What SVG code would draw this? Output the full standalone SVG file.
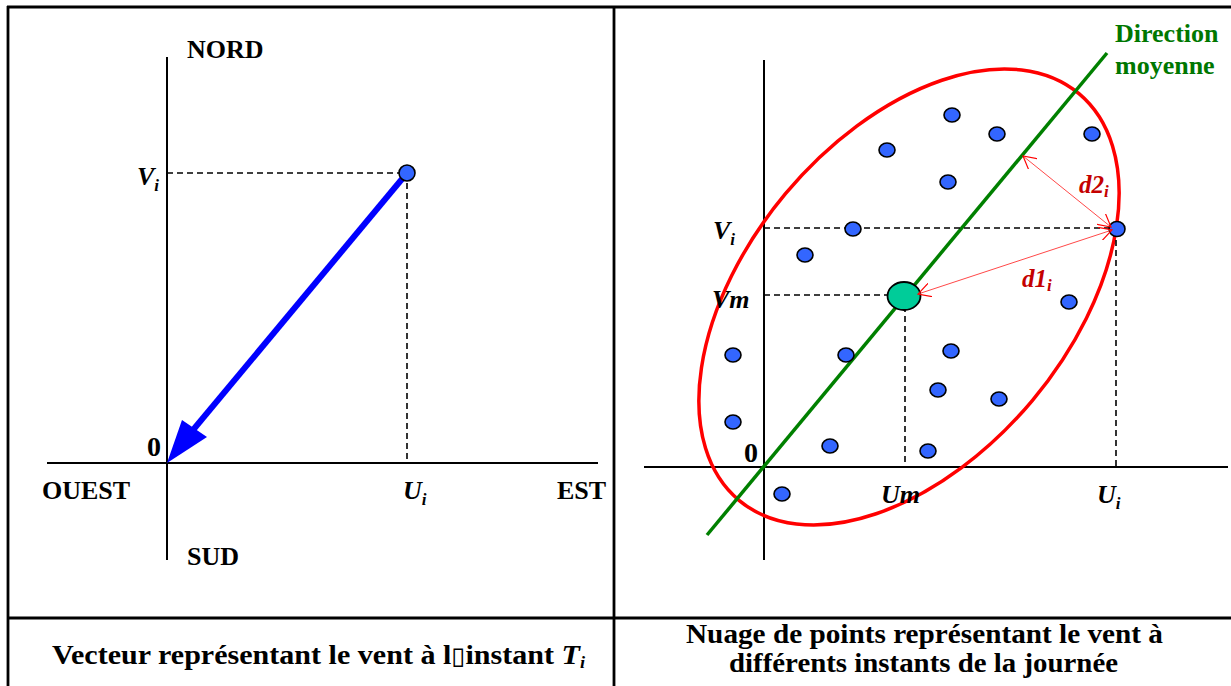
<svg xmlns="http://www.w3.org/2000/svg" width="1231" height="686" viewBox="0 0 1231 686">
<style>
.t{font-family:"Liberation Serif","Times New Roman",serif;font-weight:bold;fill:#000}
.lab{font-size:26px}
.it{font-style:italic}
.sub{font-size:17px}
.cap{font-size:28px}
.axis{stroke:#000;stroke-width:2;fill:none}
.dash{stroke:#000;stroke-width:1.6;stroke-dasharray:6 4;fill:none}
.frame{stroke:#000;stroke-width:2.8;fill:none}
.pt{fill:#3366ff;stroke:#000;stroke-width:1.6}
.dline{stroke:#ff3333;stroke-width:0.9;fill:none}
.dlab{font-size:25px}
</style>
<defs>
<marker id="openArr" viewBox="0 0 12 12" refX="11" refY="6" markerWidth="14" markerHeight="14" markerUnits="userSpaceOnUse" orient="auto-start-reverse">
<path d="M0,0 L11,6 L0,12" fill="none" stroke="#ff0000" stroke-width="1"/>
</marker>
</defs>

<g id="table">
<line class="frame" x1="7" y1="7" x2="1231" y2="7"/>
<line class="frame" x1="8" y1="6" x2="8" y2="686"/>
<line class="frame" x1="614" y1="6" x2="614" y2="686"/>
<line class="frame" x1="7" y1="618" x2="1231" y2="618"/>
</g>

<!-- Left panel -->
<g id="left-axes">
<line class="axis" x1="167" y1="57" x2="167" y2="560"/>
<line class="axis" x1="47" y1="463" x2="598" y2="463"/>
<text class="t lab" x="187" y="58">NORD</text>
<text class="t lab" x="187" y="565">SUD</text>
<text class="t lab" x="42" y="499">OUEST</text>
<text class="t lab" x="557" y="499">EST</text>
<text class="t" x="147" y="456" font-size="28">0</text>
</g>
<g id="left-projections">
<line class="dash" x1="167" y1="173" x2="407" y2="173"/>
<line class="dash" x1="407" y1="173" x2="407" y2="463"/>
<text class="t lab it" x="137" y="185">V<tspan class="sub" dy="6">i</tspan></text>
<text class="t lab it" x="403" y="499">U<tspan class="sub" dy="6">i</tspan></text>
</g>
<g id="left-vector">
<line x1="407" y1="173" x2="193" y2="430" stroke="#0000ff" stroke-width="6"/>
<polygon points="167,463 182,420 207,437" fill="#0000ff"/>
</g>
<g id="left-point">
<circle class="pt" cx="407" cy="173" r="8"/>
</g>
<g id="left-caption">
<text class="t cap" x="52" y="664" textLength="533" lengthAdjust="spacingAndGlyphs">Vecteur représentant le vent à l<tspan font-family="DejaVu Sans" font-weight="normal" font-size="24">▯</tspan>instant <tspan class="it">T</tspan><tspan class="it sub" dy="4">i</tspan></text>
</g>

<!-- Right panel -->
<g id="right-axes">
<line class="axis" x1="764" y1="60" x2="764" y2="560"/>
<line class="axis" x1="644" y1="467" x2="1228" y2="467"/>
<text class="t" x="744" y="462" font-size="28">0</text>
</g>
<g id="ellipse">
<ellipse cx="909" cy="297" rx="265" ry="161" transform="rotate(-50.1 909 297)" fill="none" stroke="#ff0000" stroke-width="3.5"/>
</g>
<g id="direction-moyenne">
<line x1="707" y1="535" x2="1107" y2="53" stroke="#008000" stroke-width="3.5"/>
<text class="t" x="1115" y="42" font-size="26" style="fill:#007700">Direction</text>
<text class="t" x="1115" y="74" font-size="26" style="fill:#007700">moyenne</text>
</g>
<g id="right-projections">
<line class="dash" x1="764" y1="228" x2="1116" y2="228"/>
<line class="dash" x1="1116" y1="230" x2="1116" y2="467"/>
<line class="dash" x1="764" y1="295" x2="903" y2="295"/>
<line class="dash" x1="905" y1="296" x2="905" y2="467"/>
<text class="t lab it" x="713" y="239">V<tspan class="sub" dy="6">i</tspan></text>
<text class="t lab it" x="712" y="308">Vm</text>
<text class="t lab it" x="881" y="503">Um</text>
<text class="t lab it" x="1097" y="503">U<tspan class="sub" dy="6">i</tspan></text>
</g>
<g id="cloud-points">
<ellipse class="pt" cx="952" cy="115" rx="8" ry="7"/>
<ellipse class="pt" cx="997" cy="134" rx="8" ry="7"/>
<ellipse class="pt" cx="1092" cy="134" rx="8" ry="7"/>
<ellipse class="pt" cx="887" cy="150" rx="8" ry="7"/>
<ellipse class="pt" cx="948" cy="182" rx="8" ry="7"/>
<ellipse class="pt" cx="853" cy="229" rx="8" ry="7"/>
<ellipse class="pt" cx="805" cy="255" rx="8" ry="7"/>
<ellipse class="pt" cx="1069" cy="302" rx="8" ry="7"/>
<ellipse class="pt" cx="733" cy="355" rx="8" ry="7"/>
<ellipse class="pt" cx="846" cy="355" rx="8" ry="7"/>
<ellipse class="pt" cx="951" cy="351" rx="8" ry="7"/>
<ellipse class="pt" cx="938" cy="390" rx="8" ry="7"/>
<ellipse class="pt" cx="999" cy="399" rx="8" ry="7"/>
<ellipse class="pt" cx="733" cy="422" rx="8" ry="7"/>
<ellipse class="pt" cx="830" cy="446" rx="8" ry="7"/>
<ellipse class="pt" cx="928" cy="451" rx="8" ry="7"/>
<ellipse class="pt" cx="782" cy="494" rx="8" ry="7"/>
</g>
<g id="point-i">
<ellipse class="pt" cx="1117" cy="229" rx="8" ry="7.5"/>
</g>
<g id="mean-point">
<ellipse cx="904" cy="296" rx="16.5" ry="14" fill="#00cc99" stroke="#000" stroke-width="1.8"/>
</g>
<g id="distances">
<line class="dline" x1="1023" y1="156" x2="1111" y2="227" marker-start="url(#openArr)" marker-end="url(#openArr)"/>
<line class="dline" x1="918" y1="294" x2="1112" y2="230" marker-start="url(#openArr)" marker-end="url(#openArr)"/>
<text class="t dlab it" x="1079" y="193" style="fill:#c40000">d2<tspan class="sub" dy="4">i</tspan></text>
<text class="t dlab it" x="1022" y="287" style="fill:#c40000">d1<tspan class="sub" dy="4">i</tspan></text>
</g>
<g id="right-caption">
<text class="t cap" x="686" y="643" textLength="477" lengthAdjust="spacingAndGlyphs">Nuage de points représentant le vent à</text>
<text class="t cap" x="729" y="672" textLength="389" lengthAdjust="spacingAndGlyphs">différents instants de la journée</text>
</g>
</svg>
